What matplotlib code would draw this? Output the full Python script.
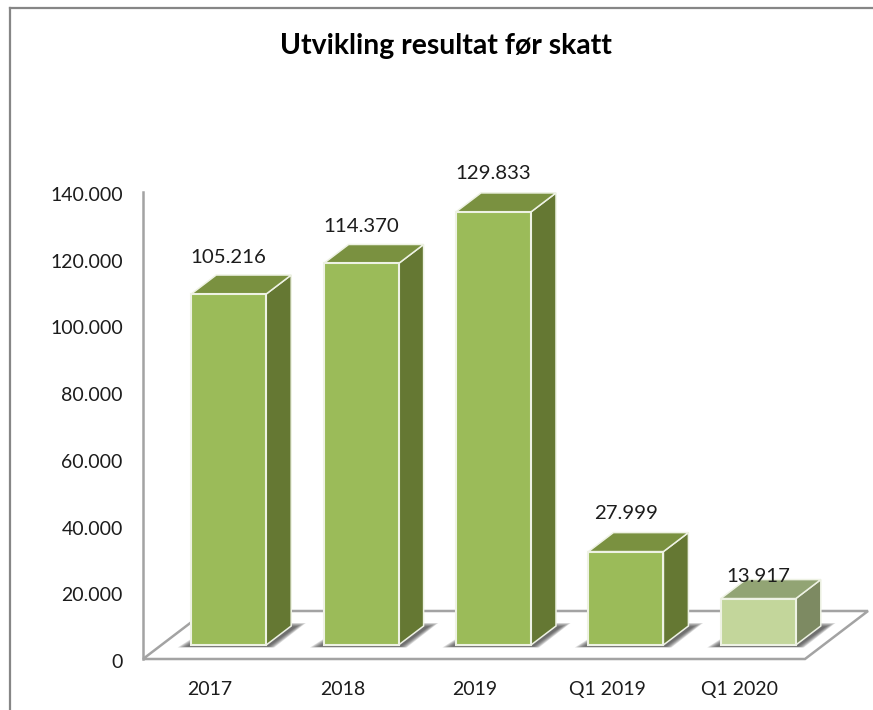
import matplotlib
matplotlib.use("Agg")
import matplotlib.pyplot as plt
from matplotlib.patches import Polygon
from matplotlib.lines import Line2D
from matplotlib.ticker import FuncFormatter
from matplotlib.transforms import ScaledTranslation

plt.rcParams['font.family'] = ['Lato', 'DejaVu Sans']

categories = ['2017', '2018', '2019', 'Q1 2019', 'Q1 2020']
values = [105216, 114370, 129833, 27999, 13917]
y_ticks = [0, 20000, 40000, 60000, 80000, 100000, 120000, 140000]
title = 'Utvikling resultat før skatt'

W, H = 873, 710
AX_L, AX_R, AX_B, AX_T = 143, 805, 659, 192
fig = plt.figure(figsize=(W / 100, H / 100), dpi=100, facecolor='white')
ax = fig.add_axes([AX_L / W, 1 - AX_B / H, (AX_R - AX_L) / W, (AX_B - AX_T) / H])
ax.set_xlim(-0.5, 4.5)
ax.set_ylim(0, 140000)
ax.patch.set_alpha(0)

px_x = 5 / (AX_R - AX_L)           # data units per pixel, x
px_y = 140000 / (AX_B - AX_T)      # data units per pixel, y

GRAY = '#a3a3a3'
TXT = '#1c1c1c'

# chart-area frame
fig.add_artist(Line2D([9.5 / W, 9.5 / W], [0, 1 - 8 / H], color='#868686', lw=1.6))
fig.add_artist(Line2D([9.5 / W, 1], [1 - 8 / H, 1 - 8 / H], color='#868686', lw=1.6))

# floor
fx, fy = 63 * px_x, 48 * px_y
ax.add_patch(Polygon([(-0.5, 0), (4.5, 0), (4.5 + fx, fy), (-0.5 + fx, fy)], closed=True,
                     facecolor='white', edgecolor=GRAY, lw=1.8, clip_on=False, zorder=1))

# bars
front = ['#9bbb59'] * 4 + ['#c3d69b']
side = ['#657833'] * 4 + ['#7d8a62']
top = ['#7a9140'] * 4 + ['#92a474']
offset = 19.5 * px_x
width = 75 * px_x
base = 14 * px_y
dx, dy = 25 * px_x, 19 * px_y
label_gap = [18, 18, 19, 19, 3]
for i, v in enumerate(values):
    x0 = i + offset - width / 2
    x1 = x0 + width
    # soft shadow on the floor: stacked layers, widest first
    for k in range(7):
        g = (6 - k) * 1.6 + 4
        yb = base - (2.5 - k * 0.15) * px_y
        yt = base + dy + (3 - k * 0.6) * px_y
        ax.add_patch(Polygon([(x0 - g * px_x, yb),
                              (x1 + (8 - k) * px_x, yb),
                              (x1 + dx + (1 + g) * px_x, yt),
                              (x0 + dx, yt)],
                             closed=True, facecolor='#3a3a3a', edgecolor='none',
                             alpha=0.17, zorder=2, clip_on=False))
    ax.bar(i + offset, v, width=width, bottom=base, color=front[i], edgecolor='#eef2e4',
           linewidth=1.5, zorder=5, clip_on=False)
    ytop = base + v
    ax.add_patch(Polygon([(x1, base), (x1 + dx, base + dy), (x1 + dx, ytop + dy), (x1, ytop)],
                         closed=True, facecolor=side[i], edgecolor='#eef2e4', lw=1.1,
                         zorder=4, clip_on=False))
    ax.add_patch(Polygon([(x0, ytop), (x1, ytop), (x1 + dx, ytop + dy), (x0 + dx, ytop + dy)],
                         closed=True, facecolor=top[i], edgecolor='#eef2e4', lw=1.1,
                         zorder=4, clip_on=False))
    ax.annotate(f'{v:,}'.replace(',', '.'), (i + offset, ytop + dy), xytext=(0, label_gap[i]),
                textcoords='offset pixels', ha='center', va='center', fontsize=14.7, color=TXT,
                zorder=6, annotation_clip=False)

# axes
for s in ('top', 'right', 'bottom'):
    ax.spines[s].set_visible(False)
ax.spines['left'].set_color(GRAY)
ax.spines['left'].set_linewidth(1.8)
ax.spines['left'].set_zorder(3)
ax.set_xticks(range(len(categories)), categories)
ax.set_yticks(y_ticks)
ax.yaxis.set_major_formatter(FuncFormatter(lambda v, _: f'{int(v):,}'.replace(',', '.')))
ax.tick_params(axis='both', length=0, labelsize=14, labelcolor=TXT)
ax.tick_params(axis='y', pad=14.5)
ax.tick_params(axis='x', pad=16)
shift = ScaledTranslation(0, -2 / 100, fig.dpi_scale_trans)
for lbl in ax.get_yticklabels():
    lbl.set_transform(lbl.get_transform() + shift)
shift_x = ScaledTranslation(1 / 100, 0, fig.dpi_scale_trans)
for lbl in ax.get_xticklabels():
    lbl.set_transform(lbl.get_transform() + shift_x)

fig.text(446 / W, 1 - 46 / H, title, ha='center', va='center', fontsize=20.4,
         fontweight='bold', color='black')

fig.savefig('out.png', dpi=100)
